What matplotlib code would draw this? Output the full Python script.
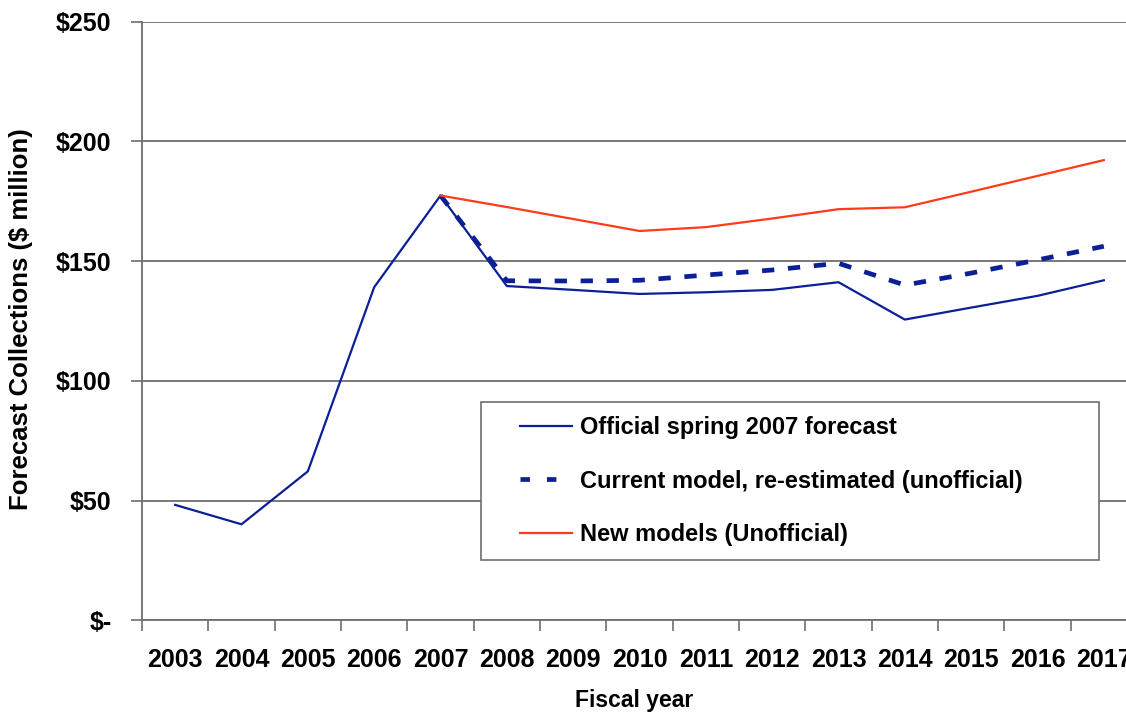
import numpy as np
import matplotlib
matplotlib.use("Agg")
import matplotlib.pyplot as plt
from matplotlib.lines import Line2D
from matplotlib.patches import Rectangle
from matplotlib.ticker import FixedLocator, FuncFormatter

plt.rcParams["font.family"] = ["Liberation Sans", "DejaVu Sans"]
plt.rcParams["font.weight"] = "bold"

YEARS = [str(y) for y in range(2003, 2018)]

# $ million
OFFICIAL = [48.2, 40.1, 62.2, 139.1, 177.4, 139.6, 138.0, 136.3, 137.0, 138.0,
            141.2, 125.6, 130.6, 135.5, 142.0]
CURRENT = [None, None, None, None, 177.4, 141.8, 141.7, 142.0, 144.2, 146.3,
           149.1, 140.0, 145.0, 150.5, 156.2]
NEW = [None, None, None, None, 177.4, 172.6, 167.6, 162.6, 164.2, 167.8,
       171.7, 172.5, 179.0, 185.6, 192.2]

BLUE = "#0b1f96"
RED = "#ff3b1a"
GRID = "#6e6e6e"
W, H = 1126, 715


def as_array(vals):
    return np.array([np.nan if v is None else v for v in vals], dtype=float)


fig = plt.figure(figsize=(W / 100, H / 100), dpi=100)
ax = fig.add_axes([142 / W, 1 - 620.3 / H, 995 / W, (620.3 - 21.7) / H])

x = np.arange(len(YEARS))
ax.plot(x, as_array(OFFICIAL), color=BLUE, lw=1.6, zorder=3)
ax.plot(x, as_array(CURRENT), color=BLUE, lw=3.4, zorder=3,
        linestyle=(0, (2.6, 2.9)), dash_capstyle="butt")
ax.plot(x, as_array(NEW), color=RED, lw=1.6, zorder=3)

ax.set_xlim(-0.5, len(YEARS) - 0.5)
ax.set_ylim(0, 250)

ax.yaxis.set_major_locator(FixedLocator([0, 50, 100, 150, 200, 250]))
ax.yaxis.set_major_formatter(FuncFormatter(lambda v, p: "$-" if v == 0 else f"${v:.0f}"))
ax.yaxis.grid(True, color=GRID, lw=1.3)
ax.set_axisbelow(True)

ax.set_xticks(x)
ax.set_xticklabels(YEARS)
ax.xaxis.set_minor_locator(FixedLocator(np.arange(-0.5, len(YEARS), 1.0)))
ax.tick_params(axis="x", which="major", length=0, pad=20, labelsize=18)
ax.tick_params(axis="x", which="minor", length=8, width=1.2, color=GRID, direction="out")
ax.tick_params(axis="y", length=8, width=1.2, color=GRID, pad=14, labelsize=18)

for side in ("top", "right"):
    ax.spines[side].set_visible(False)
for side in ("left", "bottom"):
    ax.spines[side].set_color(GRID)
    ax.spines[side].set_linewidth(1.3)

fig.text(634 / W, 1 - 700 / H, "Fiscal year", ha="center", va="center",
         fontsize=16.5, fontweight="bold")
fig.text(21 / W, 1 - 319 / H, "Forecast Collections ($ million)", ha="center",
         va="center", rotation=90, fontsize=18.5, fontweight="bold")

# legend box, drawn separately so the inner padding can be set freely
fig.patches.append(Rectangle((481 / W, 1 - 560 / H), (1099 - 481) / W, (560 - 402) / H,
                             transform=fig.transFigure, facecolor="white",
                             edgecolor=GRID, lw=1.2, zorder=4))

handles = [
    Line2D([], [], color=BLUE, lw=1.6),
    Line2D([], [], color=BLUE, lw=3.4, linestyle=(0, (2.0, 3.6)), dash_capstyle="butt"),
    Line2D([], [], color=RED, lw=1.6),
]
labels = ["Official spring 2007 forecast",
          "Current model, re-estimated (unofficial)",
          "New models (Unofficial)"]
leg = fig.legend(handles, labels, loc="upper left",
                 bbox_to_anchor=(520 / W, 1 - 416 / H),
                 prop={"size": 17, "weight": "bold"}, frameon=False,
                 handlelength=2.2, handletextpad=0.35, labelspacing=1.3,
                 borderpad=0, borderaxespad=0)
leg.set_zorder(5)

fig.savefig("out.png", dpi=100)
